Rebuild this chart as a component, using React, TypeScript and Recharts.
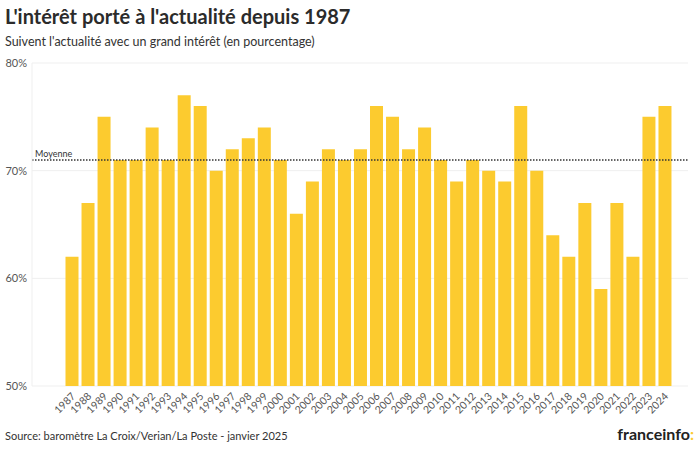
import React from 'react';
import { BarChart, Bar, XAxis, YAxis, CartesianGrid, ReferenceLine } from 'recharts';

const years = [
  '1987', '1988', '1989', '1990', '1991', '1992', '1993', '1994', '1995', '1996',
  '1997', '1998', '1999', '2000', '2001', '2002', '2003', '2004', '2005', '2006',
  '2007', '2008', '2009', '2010', '2011', '2012', '2013', '2014', '2015', '2016',
  '2017', '2018', '2019', '2020', '2021', '2022', '2023', '2024',
];

const interet = [
  62, 67, 75, 71, 71, 74, 71, 77, 76, 70,
  72, 73, 74, 71, 66, 69, 72, 71, 72, 76,
  75, 72, 74, 71, 69, 71, 70, 69, 76, 70,
  64, 62, 67, 59, 67, 62, 75, 76,
];

const yTicks = [50, 60, 70, 80];
const moyenne = 71;

const data = years.map((y, i) => ({ annee: y, valeur: interet[i] }));

const FONT = 'Lato, "Noto Sans", sans-serif';
const YELLOW = '#fccb2f';

const YearTick = (props: any) => {
  const { x, y, payload } = props;
  return (
    <g transform={`translate(${x + 4},${y + 3})`}>
      <text
        textAnchor="end"
        transform="rotate(-45)"
        fontSize={10.5}
        fill="#555"
        fontFamily={FONT}
      >
        {payload.value}
      </text>
    </g>
  );
};

const App: React.FC = () => {
  return (
    <div
      style={{
        position: 'absolute',
        left: 0,
        top: 0,
        width: 700,
        height: 450,
        background: '#fff',
        fontFamily: FONT,
        overflow: 'hidden',
      }}
    >
      <div style={{ position: 'absolute', left: 5, top: 4, fontSize: 20, fontWeight: 700, color: '#2b2b2b' }}>
        L'intérêt porté à l'actualité depuis 1987
      </div>
      <div style={{ position: 'absolute', left: 5, top: 34, fontSize: 12.5, color: '#333' }}>
        Suivent l'actualité avec un grand intérêt (en pourcentage)
      </div>

      <div style={{ position: 'absolute', left: 0, top: 0 }}>
        <BarChart
          width={700}
          height={450}
          data={data}
          margin={{ top: 63, right: 12, bottom: 30, left: 0 }}
          barCategoryGap={1.5}
        >
          <CartesianGrid vertical={false} stroke="#efefef" />
          <XAxis
            dataKey="annee"
            interval={0}
            axisLine={false}
            tickLine={false}
            height={34}
            padding={{ left: 32, right: 15 }}
            tick={<YearTick />}
          />
          <YAxis
            domain={[50, 80]}
            ticks={yTicks}
            width={32}
            tickSize={3}
            tickMargin={2}
            tickLine={false}
            axisLine={{ stroke: '#efefef' }}
            tick={{ fontSize: 11, fill: '#555', fontFamily: FONT }}
            tickFormatter={(v: number) => `${v}%`}
          />
          <Bar dataKey="valeur" fill={YELLOW} isAnimationActive={false} />
          <ReferenceLine
            y={moyenne}
            stroke="#333"
            strokeWidth={1.5}
            strokeDasharray="1.5 1.5"
            label={{ value: 'Moyenne', position: 'insideBottomLeft', offset: 3, fontSize: 9, fill: '#333', fontFamily: FONT }}
          />
        </BarChart>
      </div>

      <div style={{ position: 'absolute', left: 5, top: 429, fontSize: 11, color: '#333' }}>
        Source: baromètre La Croix/Verian/La Poste - janvier 2025
      </div>
      <div style={{ position: 'absolute', right: 6, top: 424, fontSize: 16, fontWeight: 700, color: '#222' }}>
        franceinfo<span style={{ color: YELLOW }}>:</span>
      </div>
    </div>
  );
};

export default App;
